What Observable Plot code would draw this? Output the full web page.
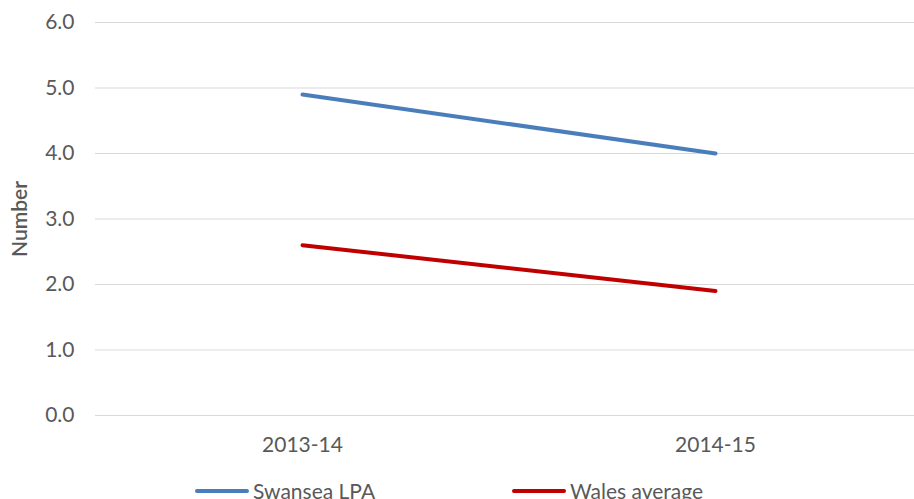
<!DOCTYPE html>
<html><head><meta charset="utf-8">
<script src="https://cdn.jsdelivr.net/npm/d3@7"></script>
<script src="https://cdn.jsdelivr.net/npm/@observablehq/plot@0.6"></script>
<style>
body{margin:0;background:#fff;font-family:Lato,sans-serif;overflow:hidden;}
#wrap{position:relative;width:914px;height:499px;}
#legend{position:absolute;top:478px;left:0;width:914px;height:30px;}
.item{position:absolute;display:flex;align-items:center;font-size:21px;color:#595959;}
.swatch{width:54px;height:4px;border-radius:2px;margin-right:4px;}
</style></head>
<body><div id="wrap"><div id="chart"></div><div id="legend"></div></div>
<script>
const periods = ["2013-14", "2014-15"];
const seriesNames = ["Swansea LPA", "Wales average"];
const swansea = [4.9, 4.0];
const wales = [2.6, 1.9];
const colors = ["#4a7ebb", "#c00000"];
const yTicks = [0, 1, 2, 3, 4, 5, 6];

const data = [];
periods.forEach((p, i) => {
  data.push({period: p, series: seriesNames[0], value: swansea[i]});
  data.push({period: p, series: seriesNames[1], value: wales[i]});
});

const chart = Plot.plot({
  width: 914,
  height: 478,
  marginTop: 22,
  marginBottom: 63,
  marginLeft: 95,
  marginRight: 0,
  style: {fontFamily: "Lato, sans-serif", color: "#595959", background: "#fff"},
  x: {type: "point", domain: periods, range: [302, 715], padding: 0, label: null},
  y: {domain: [0, 6], ticks: yTicks, label: null},
  color: {domain: seriesNames, range: colors},
  marks: [
    Plot.gridY(yTicks, {stroke: "#d9d9d9", strokeOpacity: 1, strokeWidth: 1}),
    Plot.axisY(yTicks, {tickSize: 0, tickPadding: 21, fontSize: 21, fill: "#595959", tickFormat: d => d.toFixed(1), label: null}),
    Plot.axisX(periods, {tickSize: 0, tickPadding: 22, fontSize: 21, fill: "#595959", label: null}),
    Plot.text(["Number"], {frameAnchor: "left", textAnchor: "middle", dx: -75, rotate: -90, fontSize: 21, fill: "#595959", fontWeight: 600}),
    Plot.line(data, {x: "period", y: "value", z: "series", stroke: "series", strokeWidth: 4, strokeLinecap: "round"})
  ]
});
document.getElementById("chart").appendChild(chart);

const legend = document.getElementById("legend");
const lefts = [195, 512];
seriesNames.forEach((n, i) => {
  const it = document.createElement("div");
  it.className = "item";
  it.style.left = lefts[i] + "px";
  it.innerHTML = `<div class="swatch" style="background:${colors[i]}"></div><span>${n}</span>`;
  legend.appendChild(it);
});
</script></body></html>
